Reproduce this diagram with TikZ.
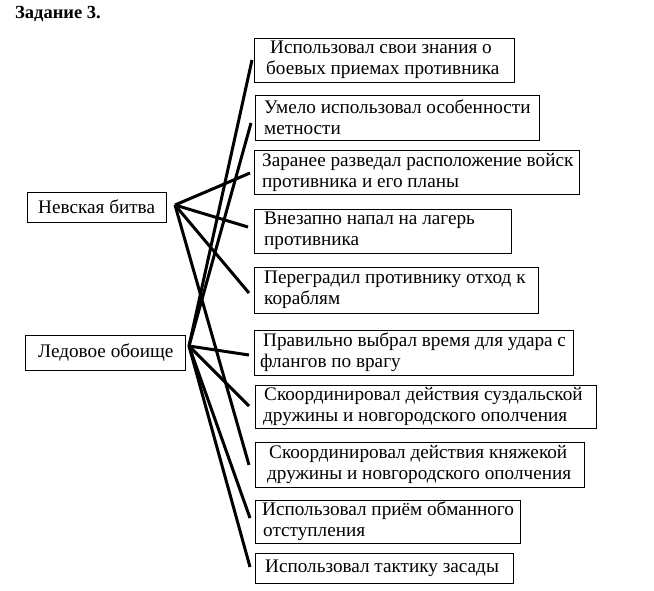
\documentclass[tikz,border=0pt]{standalone}
\usepackage{fontspec}
\setmainfont{Liberation Serif}
\begin{document}
\begin{tikzpicture}[x=1pt,y=-1pt,
  box/.style={draw=black, line width=1pt, rectangle, inner sep=0pt, anchor=north west},
  txt/.style={inner sep=0pt, align=left, anchor=west, font=\fontsize{19.2pt}{21pt}\selectfont},
  link/.style={draw=black, line width=3pt}]
\useasboundingbox[fill=white] (0,0) rectangle (654,590);
\node[anchor=base west, inner sep=0pt, font=\fontsize{18.5pt}{20pt}\selectfont\bfseries] (title) at (15,18) {Задание 3.};
% left boxes
\node[box, minimum width=139pt, minimum height=30pt] (nev) at (27,192) {};
\node[txt] (tnev) at (38,207) {Невская битва};
\node[box, minimum width=160pt, minimum height=35pt] (led) at (25,335) {};
\node[txt] (tled) at (38,352.5) {Ледовое обоище};
% right boxes
\node[box, minimum width=260pt, minimum height=44pt] (b1) at (254,38) {};
\node[txt] (t1) at (266,60) {\hspace*{4pt}Использовал свои знания о\\боевых приемах противника};
\node[box, minimum width=284pt, minimum height=45pt] (b2) at (255,95) {};
\node[txt] (t2) at (264,117.5) {Умело использовал особенности\\метности};
\node[box, minimum width=325pt, minimum height=44pt] (b3) at (254,150) {};
\node[txt] (t3) at (262,172) {Заранее разведал расположение войск\\противника и его планы};
\node[box, minimum width=257pt, minimum height=44pt] (b4) at (254,209) {};
\node[txt] (t4) at (264,231) {Внезапно напал на лагерь\\противника};
\node[box, minimum width=284pt, minimum height=46pt] (b5) at (254,267) {};
\node[txt] (t5) at (264,290) {Переградил противнику отход к\\кораблям};
\node[box, minimum width=319pt, minimum height=45pt] (b6) at (254,330) {};
\node[txt] (t6) at (260,352.5) {\hspace*{3pt}Правильно выбрал время для удара с\\флангов по врагу};
\node[box, minimum width=341pt, minimum height=43pt] (b7) at (255,385) {};
\node[txt] (t7) at (263,406.5) {\hspace*{1pt}Скоординировал действия суздальской\\дружины и новгородского ополчения};
\node[box, minimum width=329pt, minimum height=45pt] (b8) at (255,442) {};
\node[txt] (t8) at (267,464.5) {\hspace*{2pt}Скоординировал действия княжекой\\дружины и новгородского ополчения};
\node[box, minimum width=265pt, minimum height=43pt] (b9) at (255,500) {};
\node[txt] (t9) at (262,521.5) {Использовал приём обманного\\\hspace*{1pt}отступления};
\node[box, minimum width=258pt, minimum height=30pt] (b10) at (255,553) {};
\node[txt] (t10) at (265,568) {Использовал тактику засады};
% connector ends
\coordinate (n0) at (175,205);
\coordinate (l0) at (189,346);
\coordinate (e1) at (252,60);
\coordinate (e2) at (251,123);
\coordinate (e3) at (250,173);
\coordinate (e4) at (248,227);
\coordinate (e5) at (249,293);
\coordinate (e6) at (249,355);
\coordinate (e7) at (249,406);
\coordinate (e8) at (249,465);
\coordinate (e9) at (250,518);
\coordinate (e10) at (250,567);
% connectors
\draw[link] (n0) -- (e3);
\draw[link] (n0) -- (e4);
\draw[link] (n0) -- (e5);
\draw[link] (n0) -- (e8);
\draw[link] (l0) -- (e1);
\draw[link] (l0) -- (e2);
\draw[link] (l0) -- (e6);
\draw[link] (l0) -- (e7);
\draw[link] (l0) -- (e9);
\draw[link] (l0) -- (e10);
\end{tikzpicture}
\end{document}
